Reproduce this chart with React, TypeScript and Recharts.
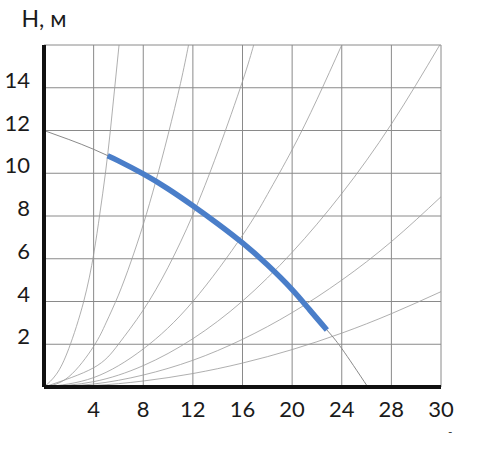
import { LineChart, Line, XAxis, YAxis, CartesianGrid } from "recharts";

// flow Q axis: evenly spaced grid, last label reads "30"
const xTicks = [4, 8, 12, 16, 20, 24, 28, 32];
const xTickLabels = ["4", "8", "12", "16", "20", "24", "28", "30"];
const yTicks = [2, 4, 6, 8, 10, 12, 14, 16];
const yTickLabels = ["2", "4", "6", "8", "10", "12", "14", ""];

// pump curve, [Q, H]
const pumpCurve: [number, number][] = [
  [0, 12], [2, 11.58], [4, 11.12], [6, 10.58], [8, 9.97], [10, 9.27], [12, 8.48],
  [14, 7.64], [16, 6.74], [18, 5.72], [20, 4.56], [21.4, 3.62], [22.8, 2.67],
  [24, 1.8], [26.1, 0],
];
// working range (thick blue part)
const workStart: [number, number] = [5.13, 10.82];
const workTo = 22.8;

// system curves, steepest first
const sys1: [number, number][] = [
  [0, 0], [1, 0.6], [2, 1.8], [3.2, 4], [4, 6.2], [4.5, 8.1], [4.95, 10], [5.35, 12], [5.7, 14], [6.05, 16],
];
const sys2: [number, number][] = [
  [0, 0], [2, 0.48], [4, 1.9], [5, 3.0], [6, 4.3], [7, 5.85], [8, 7.6], [9, 9.6], [10, 11.8], [11, 14.2], [11.65, 16],
];
const sys3: [number, number][] = [
  [0, 0], [4, 0.9], [6, 2.0], [8, 3.6], [10, 5.6], [12, 8.06], [14, 11.0], [16, 14.3], [16.9, 16],
];
const sys4: [number, number][] = [
  [0, 0], [4, 0.44], [8, 1.78], [12, 4.0], [16, 7.1], [18, 9.0], [20, 11.1], [22, 13.45], [24, 16],
];
const sys5: [number, number][] = [
  [0, 0], [4, 0.25], [8, 1.0], [12, 2.26], [16, 4.02], [20, 6.3], [24, 9.05], [28, 12.3], [31.9, 16],
];
const sys6: [number, number][] = [
  [0, 0], [4, 0.14], [8, 0.56], [12, 1.25], [16, 2.23], [20, 3.48], [24, 5.0], [28, 6.8], [32, 8.9],
];
const sys7: [number, number][] = [
  [0, 0], [4, 0.07], [8, 0.28], [12, 0.63], [16, 1.12], [20, 1.75], [24, 2.52], [28, 3.43], [32, 4.46],
];
const systemCurves = [sys1, sys2, sys3, sys4, sys5, sys6, sys7];

const FONT = "Lato, 'Open Sans', sans-serif";

const toPoints = (pairs: [number, number][]) => pairs.map(([q, h]) => ({ q, h }));

const XTick = (props: any) => {
  const { x, y, payload } = props;
  const label = xTickLabels[xTicks.indexOf(payload.value)];
  return (
    <text x={x} y={y + 30} textAnchor="middle" fontFamily={FONT} fontSize={22} fill="#1a1a1a">
      {label}
    </text>
  );
};

const YTick = (props: any) => {
  const { x, y, payload } = props;
  const label = yTickLabels[yTicks.indexOf(payload.value)];
  return (
    <text x={x - 14} y={y} textAnchor="end" fontFamily={FONT} fontSize={22} fill="#1a1a1a">
      {label}
    </text>
  );
};

export default function App() {
  const pump = toPoints(pumpCurve);
  const work = toPoints([workStart, ...pumpCurve.filter(([q]) => q > workStart[0] && q <= workTo)]);

  return (
    <div style={{ position: "absolute", left: 0, top: 0, width: 485, height: 460, background: "#fff" }}>
      <LineChart width={485} height={460} margin={{ top: 45, right: 44, bottom: 0, left: 0 }}>
        <CartesianGrid stroke="#8a8a8a" strokeWidth={1} />
        <XAxis
          type="number"
          dataKey="q"
          domain={[0, 32]}
          ticks={xTicks}
          interval={0}
          height={73}
          tickSize={0}
          tickMargin={0}
          tickLine={false}
          axisLine={{ stroke: "#111", strokeWidth: 4 }}
          tick={<XTick />}
          allowDataOverflow
        />
        <YAxis
          type="number"
          domain={[0, 16]}
          ticks={yTicks}
          interval={0}
          width={44}
          tickSize={0}
          tickMargin={0}
          tickLine={false}
          axisLine={{ stroke: "#111", strokeWidth: 4 }}
          tick={<YTick />}
          allowDataOverflow
        />
        {systemCurves.map((c, i) => (
          <Line
            key={"sys" + i}
            data={toPoints(c)}
            dataKey="h"
            type="natural"
            stroke="#9a9a9a"
            strokeWidth={0.8}
            dot={false}
            activeDot={false}
            isAnimationActive={false}
          />
        ))}
        <Line
          data={pump}
          dataKey="h"
          type="natural"
          stroke="#8a8a8a"
          strokeWidth={1}
          dot={false}
          activeDot={false}
          isAnimationActive={false}
        />
        <Line
          data={work}
          dataKey="h"
          type="natural"
          stroke="#4a7ec9"
          strokeWidth={5.5}
          dot={false}
          activeDot={false}
          isAnimationActive={false}
        />
      </LineChart>
      <svg width={485} height={460} style={{ position: "absolute", left: 0, top: 0, pointerEvents: "none" }}>
        <text x={21.5} y={27} fontFamily={FONT} fontSize={23} fill="#1a1a1a">
          H, м
        </text>
        <text x={448} y={436} fontFamily={FONT} fontSize={12} fill="#333">
          -
        </text>
      </svg>
    </div>
  );
}
